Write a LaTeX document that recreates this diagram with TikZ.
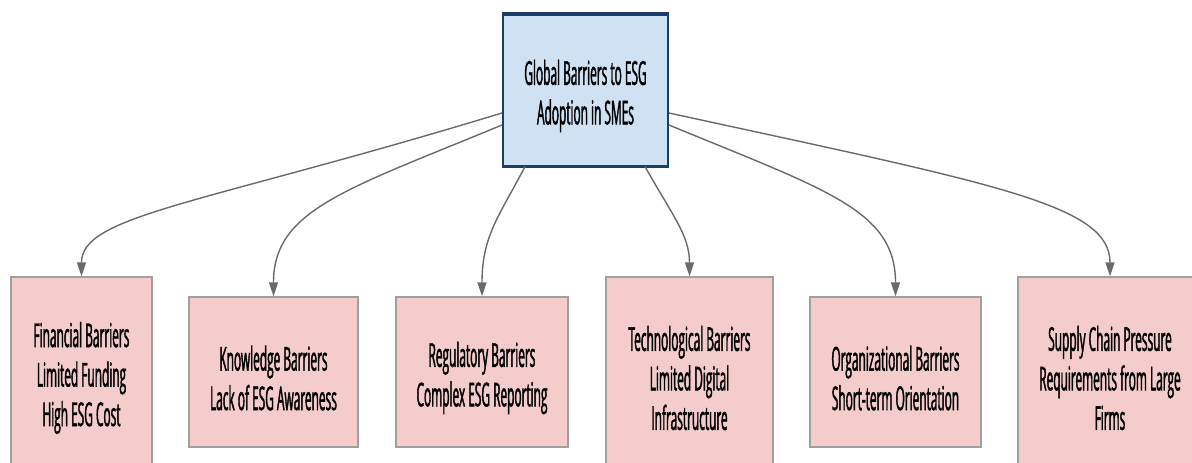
\documentclass[tikz,border=0pt]{standalone}
\usepackage{fontspec}
\setmainfont{Open Sans}[FakeStretch=0.36, FakeBold=1.2]
\usetikzlibrary{arrows.meta}
\definecolor{rootfill}{HTML}{CFE2F3}
\definecolor{rootline}{HTML}{1B3D66}
\definecolor{leaffill}{HTML}{F4CCCC}
\definecolor{leafline}{HTML}{A0A0A0}
\definecolor{edgecol}{HTML}{6A6A6A}
\tikzset{
  txt/.style={font=\fontsize{33}{39.5}\selectfont, align=center, text=black, inner sep=0pt},
  rootbox/.style={fill=rootfill, draw=rootline, line width=2pt, inner sep=0pt},
  leafbox/.style={fill=leaffill, draw=leafline, line width=1.4pt, inner sep=0pt},
  link/.style={draw=edgecol, line width=1.4pt, -{Triangle[length=14pt,width=9pt]}},
}
\begin{document}
\begin{tikzpicture}[x=1pt,y=-1pt]
\useasboundingbox (0,0) rectangle (1192,463);
\begin{scope}
\clip (0,0) rectangle (1192,463);
% root
\node[rootbox, minimum width=165pt, minimum height=151pt] (root) at (585.5,90) {};
\draw[rootline, line width=3.5pt] (root.north west) -- (root.north east);
\draw[rootline, line width=3.5pt] (root.south west) -- (root.south east);
\node[txt] (root-t) at ([yshift=-6pt]root.center) {Global Barriers to ESG\\Adoption in SMEs};
% barrier categories
\node[leafbox, minimum width=141pt, minimum height=190pt] (fin) at (81.5,372) {};
\node[leafbox, minimum width=169pt, minimum height=150pt] (know) at (273.5,372) {};
\node[leafbox, minimum width=172pt, minimum height=150pt] (reg) at (482,372) {};
\node[leafbox, minimum width=167pt, minimum height=190pt] (tech) at (689.5,372) {};
\node[leafbox, minimum width=171pt, minimum height=150pt] (org) at (895.5,372) {};
\node[leafbox, minimum width=184pt, minimum height=190pt] (sup) at (1110,372) {};
\node[txt] (fin-t) at ([yshift=-6pt]fin.center) {Financial Barriers\\Limited Funding\\High ESG Cost};
\node[txt] (know-t) at ([yshift=-6pt]know.center) {Knowledge Barriers\\Lack of ESG Awareness};
\node[txt] (reg-t) at ([yshift=-6pt]reg.center) {Regulatory Barriers\\Complex ESG Reporting};
\node[txt] (tech-t) at ([yshift=-6pt]tech.center) {Technological Barriers\\Limited Digital\\Infrastructure};
\node[txt] (org-t) at ([yshift=-6pt]org.center) {Organizational Barriers\\Short-term Orientation};
\node[txt] (sup-t) at ([yshift=-6pt]sup.center) {Supply Chain Pressure\\Requirements from Large\\Firms};
% connectors
\draw[link] ([yshift=-23pt]root.west) .. controls (200,205) and (fin.north|-0,215) .. (fin.north);
\draw[link] ([yshift=-35pt]root.west) .. controls (345,190) and (know.north|-0,210) .. (know.north);
\draw[link] ([xshift=-60.5pt]root.south) .. controls (500,215) and (reg.north|-0,235) .. (reg.north);
\draw[link] ([xshift=59.5pt]root.south) .. controls (672,215) and (tech.north|-0,235) .. (tech.north);
\draw[link] ([yshift=-35pt]root.east) .. controls (826,190) and (org.north|-0,210) .. (org.north);
\draw[link] ([yshift=-23pt]root.east) .. controls (1000,185) and (sup.north|-0,205) .. (sup.north);
\end{scope}
\end{tikzpicture}
\end{document}
